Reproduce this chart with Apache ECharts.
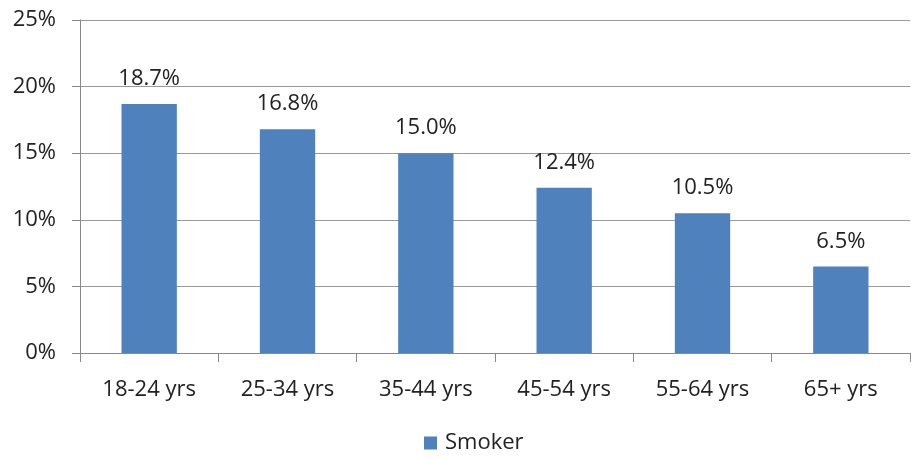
<!DOCTYPE html>
<html>
<head>
<meta charset="utf-8">
<script src="https://cdn.jsdelivr.net/npm/echarts@6/dist/echarts.min.js"></script>
<style>
html,body{margin:0;padding:0;background:#fff;}
#main{width:911px;height:458px;}
</style>
</head>
<body>
<div id="main"></div>
<script>
// 年龄段
var ageGroups = ['18-24 yrs', '25-34 yrs', '35-44 yrs', '45-54 yrs', '55-64 yrs', '65+ yrs'];
// 吸烟比例 (%)
var smoker = [18.7, 16.8, 15.0, 12.4, 10.5, 6.5];
var seriesName = 'Smoker';

var fontFam = 'Open Sans';
var fontSz = 22;

var myChart = echarts.init(document.getElementById('main'));
var option = {
	animation: false,
	grid: {
		left: 80,
		right: 1,
		top: 20,
		bottom: 105
	},
	legend: {
		data: [seriesName],
		left: 419,
		top: 427,
		icon: 'rect',
		itemWidth: 13,
		itemHeight: 13,
		itemGap: 6,
		textStyle: {
			fontFamily: fontFam,
			fontSize: fontSz,
			color: '#222',
			padding: [0, 0, 0, 3]
		}
	},
	xAxis: {
		type: 'category',
		data: ageGroups,
		axisLine: {lineStyle: {color: '#888', width: 1}},
		axisTick: {show: true, length: 9, lineStyle: {color: '#888'}},
		axisLabel: {
			interval: 0,
			margin: 26,
			fontFamily: fontFam,
			fontSize: fontSz,
			color: '#222'
		}
	},
	yAxis: {
		type: 'value',
		min: 0,
		max: 25,
		interval: 5,
		axisLine: {show: true, lineStyle: {color: '#888'}},
		axisTick: {show: true, length: 8, lineStyle: {color: '#888'}},
		splitLine: {lineStyle: {color: '#999', width: 1}},
		axisLabel: {
			margin: 24,
			fontFamily: fontFam,
			fontSize: fontSz,
			color: '#222',
			formatter: '{value}%'
		}
	},
	series: [
		{
			name: seriesName,
			type: 'bar',
			barWidth: '40%',
			data: smoker,
			itemStyle: {color: '#4F81BD'},
			label: {
				show: true,
				position: 'top',
				distance: 14,
				fontFamily: fontFam,
				fontSize: fontSz,
				color: '#222',
				formatter: function (p) { return p.value.toFixed(1) + '%'; }
			}
		}
	]
};
myChart.setOption(option);
</script>
</body>
</html>
